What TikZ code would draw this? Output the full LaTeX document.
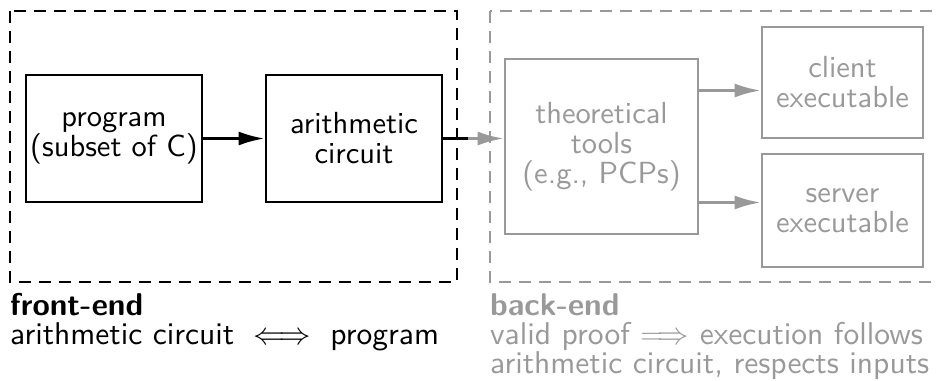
\RequirePackage{fix-cm}
\documentclass[tikz,border=0pt]{standalone}
\usepackage{amsmath}
\usepackage{amssymb}
\usepackage{fontspec}
\setsansfont{lmsans10-regular.otf}[BoldFont=lmsans10-bold.otf]
\usetikzlibrary{arrows.meta}
\colorlet{backgray}{black!40}
\tikzset{
    every node/.style={font=\sffamily\fontsize{30.5}{30}\selectfont, align=center}
}
\tikzset{
    box/.style={draw, line width=2.8pt, inner sep=0pt},
    frame/.style={line width=2.8pt, dash pattern=on 12pt off 8pt},
    link/.style={line width=2.8pt, -{Latex[length=26pt,width=14pt]}},
    caption/.style={anchor=base west, inner sep=0pt,
    	font=\sffamily\fontsize{31.5}{30}\selectfont}
}

\begin{document}
\begin{tikzpicture}[x=1pt, y=-1pt]
  \useasboundingbox (0,0) rectangle (936,380);
  \clip (0,0) rectangle (936,380);

  % front-end
  \draw [frame] (10,11) rectangle (457,282);
  \node (prog) [box, minimum width=176pt, minimum height=127pt] at (114,138.5)
    {program\\(subset of C)};
  \node (circ) [box, minimum width=176pt, minimum height=127pt] at (354,138.5)
    {arithmetic\\circuit};

  % back-end
  \begin{scope}[backgray]
  \draw [frame] (490,11) rectangle (950,282);
  \node (theo) [box, minimum width=193pt, minimum height=175pt] at (601.5,146.5)
    {theoretical\\tools\\(e.g., PCPs)};
  \node (cli) [box, minimum width=161pt, minimum height=111pt] at (842.5,82.5)
    {client\\executable};
  \node (srv) [box, minimum width=161pt, minimum height=113pt] at (842.5,210.5)
    {server\\executable};
  \end{scope}

  \coordinate (cut) at (468,138.5);

  \draw [link] (prog) -- (circ);
  \draw [line width=2.8pt] (circ.east) -- (cut);
  \draw [link, backgray] (cut) -- (cut -| theo.west);
  \draw [link, backgray] ([yshift=56pt]theo.east) -- ([yshift=56pt]theo.east -| cli.west);
  \draw [link, backgray] ([yshift=-56pt]theo.east) -- ([yshift=-56pt]theo.east -| srv.west);

  % captions
  \node (fe) [caption] at (10,315) {\bfseries front-end};
  \node (fe1) [caption] at (10,344) {arithmetic circuit $\iff$ program};
  \node (be) [caption, text=backgray] at (490,315) {\bfseries back-end};
  \node (be1) [caption, text=backgray] at (490,344) {valid proof $\Longrightarrow$ execution follows};
  \node (be2) [caption, text=backgray] at (490,373) {arithmetic circuit, respects inputs};
\end{tikzpicture}
\end{document}
